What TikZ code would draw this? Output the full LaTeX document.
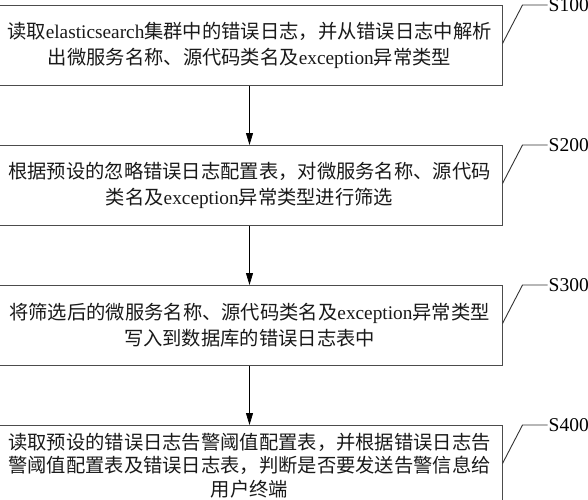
\documentclass[tikz,border=0pt]{standalone}
\usepackage{fontspec}
\setmainfont{Liberation Serif}
\newfontfamily\cjk{Noto Sans CJK SC}
\usetikzlibrary{positioning,arrows.meta}
\newcommand{\en}[1]{{\rmfamily #1}}
\begin{document}
\begin{tikzpicture}[x=1pt, y=1pt, >={Triangle[length=12pt,width=7pt]},
  stepbox/.style={draw=black!70, line width=1pt, minimum width=505pt, minimum height=80pt,
    text width=495pt, align=center, inner sep=0pt, text=black!90,
    font=\cjk\fontsize{19.3pt}{26pt}\selectfont},
  tag/.style={anchor=west, inner sep=1pt, font=\fontsize{19.5pt}{20pt}\selectfont},
  leader/.style={draw=black!80, line width=0.9pt}]
  \useasboundingbox (0,0) rectangle (588,-499);
  \node[stepbox] (b100) at (249.5,-45.5)
    {读取\en{elasticsearch}集群中的错误日志，并从错误日志中解析\\出微服务名称、源代码类名及\en{exception}异常类型};
  \node[stepbox, below=59pt of b100] (b200)
    {根据预设的忽略错误日志配置表，对微服务名称、源代码\\类名及\en{exception}异常类型进行筛选};
  \node[stepbox, below=59pt of b200] (b300)
    {将筛选后的微服务名称、源代码类名及\en{exception}异常类型\\写入到数据库的错误日志表中};
  \node[stepbox, below=59pt of b300, font=\cjk\fontsize{19.3pt}{23.5pt}\selectfont] (b400)
    {读取预设的错误日志告警阈值配置表，并根据错误日志告\\警阈值配置表及错误日志表，判断是否要发送告警信息给\\用户终端};
  \foreach \a/\b in {b100/b200, b200/b300, b300/b400}
    \draw[->, line width=0.8pt] (\a) -- (\b);
  \foreach \k in {100,200,300,400} {
    \node[tag] (t\k) at ([xshift=45pt]b\k.north east) {S\k};
    \draw[leader] ([yshift=2pt]b\k.east) -- ([xshift=20pt]b\k.north east) -- (t\k.west);
  }
\end{tikzpicture}
\end{document}
